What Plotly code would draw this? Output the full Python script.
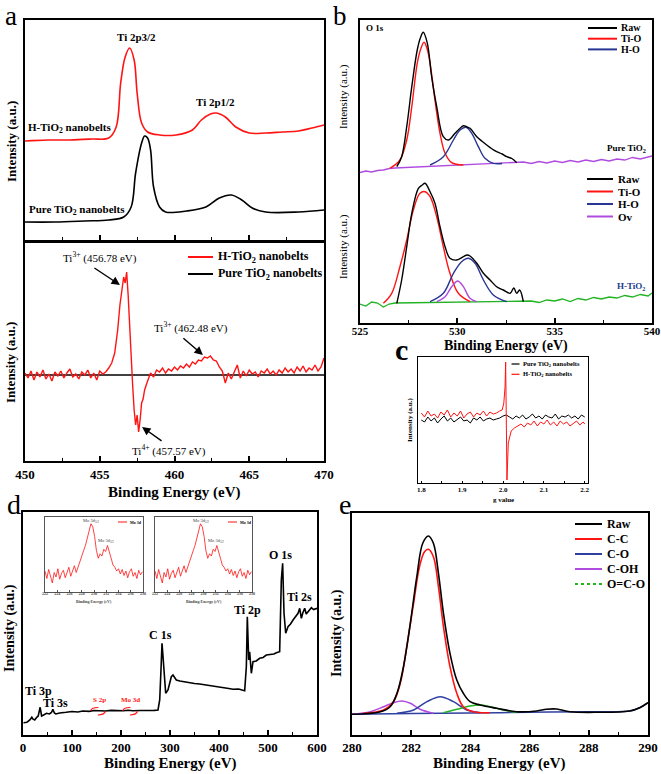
import plotly.graph_objects as go

W, H = 661, 774
SERIF = "Liberation Serif"
RED = "#ff1414"
NAVY = "#283593"
PURPLE = "#b04be0"
GREEN = "#22b322"
BLUE_E = "#3040a0"

# ---------------- Panel a (top): Ti 2p XPS ----------------
a_top_h_x = [450.0, 451.5, 453.0, 454.5, 455.6, 456.1, 456.4, 456.7, 457.0, 457.3, 457.5, 457.8, 458.2, 459.0, 460.1,
             461.2, 461.8, 462.4, 462.8, 463.4, 464.1, 465.0, 466.1, 467.2, 468.3, 469.2, 470.0]
a_top_h_y = [99, 100, 100, 101, 102, 113, 157, 183, 192, 180, 147, 117, 108, 105, 105,
             110, 120, 126, 127, 123, 113, 107, 107, 108, 109, 112, 115]
a_top_p_x = [450.0, 452.0, 454.0, 455.6, 456.6, 457.1, 457.4, 457.8, 458.0, 458.2, 458.4, 458.6, 459.0, 459.4,
             460.8, 462.1, 463.0, 463.8, 464.5, 465.2, 466.1, 468.3, 470.0]
a_top_p_y = [18, 18, 19, 20, 23, 33, 67, 97, 104, 102, 90, 53, 33, 28,
             29, 33, 42, 45, 40, 32, 28, 28, 30]

# ---------------- Panel a (bottom): difference spectrum ----------------
a_diff_x = [450.0, 450.2, 450.4, 450.6, 450.8, 451.0, 451.2, 451.4, 451.6, 451.8, 452.0, 452.2, 452.4, 452.6, 452.8,
            453.0, 453.2, 453.4, 453.6, 453.8, 454.0, 454.2, 454.4, 454.6, 454.8, 455.0, 455.2, 455.4, 455.6,
            455.8, 456.0, 456.2, 456.35, 456.5, 456.6, 456.7, 456.8, 456.9, 457.0, 457.1, 457.2, 457.3, 457.4,
            457.5, 457.6, 457.7, 457.8, 457.9, 458.0,
            458.2, 458.4, 458.6, 458.8, 459.0, 459.2, 459.4, 459.6, 459.8, 460.0,
            460.2, 460.4, 460.6, 460.8, 461.0, 461.2, 461.4, 461.6, 461.8, 462.0,
            462.2, 462.4, 462.6, 462.8, 463.0, 463.2, 463.4, 463.6, 463.8, 464.0,
            464.2, 464.4, 464.6, 464.8, 465.0, 465.2, 465.4, 465.6, 465.8, 466.0,
            466.2, 466.4, 466.6, 466.8, 467.0, 467.2, 467.4, 467.6, 467.8, 468.0,
            468.2, 468.4, 468.6, 468.8, 469.0, 469.2, 469.4, 469.6, 469.8, 470.0]
a_diff_y = [2, -3, 4, -5, 3, -2, 5, -4, 1, -6, 3, -1, 4, -3, 2, 6, -2, 1, -4, 3, 0, 5, -3, 2, -5, 4, 1, 3, 7,
            12, 22, 45,
            70, 88, 98, 92, 103, 80, 45, 15, -10, -35, -50, -40, -57, -45, -28, -24, -15,
            -6, 2, -2, 5, 3, 7, 2, 6, 4, 8,
            5, 9, 7, 11, 8, 13, 11, 15, 14, 18,
            17, 19, 15, 14, 8, 4, -8, 2, -4, 3,
            10, -3, 4, -1, 5, 1, 3, -2, 4, 2,
            6, 1, 4, 0, 5, 2, 7, 3, 6, 2,
            8, 4, 9, 3, 7, 5, 10, 4, 8, 17]
a_pure_x = [450.0, 470.0]
a_pure_y = [0, 0]
a_legend = ["H-TiO<sub>2</sub> nanobelts", "Pure TiO<sub>2</sub> nanobelts"]

# ---------------- Panel b: O 1s ----------------
b_top_raw_x = [526.89, 527.14, 527.40, 527.66, 527.94, 528.10, 528.25, 528.46, 528.68, 528.94, 529.28, 529.54, 529.88,
               530.10, 530.31, 530.50, 530.65, 531.00, 531.25, 531.51, 531.75, 532.02, 532.30, 532.54, 532.80, 533.05]
b_top_raw_y = [156.3, 166.3, 196.3, 236.3, 273.0, 285.0, 290.7, 279.7, 246.3, 216.3, 186.3, 183.0, 189.7,
               194.0, 197.3, 196.0, 194.7, 186.3, 182.0, 178.0, 174.5, 171.3, 169.0, 166.3, 164.5, 160.3]
b_top_tio_x = [526.54, 527.05, 527.40, 527.66, 527.94, 528.12, 528.29, 528.45, 528.60, 528.85, 529.11, 529.37, 529.71, 530.31]
b_top_tio_y = [154.7, 163.0, 183.0, 216.3, 259.7, 274.0, 280.7, 274.0, 259.7, 223.0, 189.7, 169.7, 160.3, 158.0]
b_top_ho_x = [528.60, 529.28, 529.80, 530.14, 530.45, 530.74, 531.08, 531.42, 531.85, 532.30]
b_top_ho_y = [158.0, 166.3, 183.0, 193.0, 195.7, 189.7, 176.3, 164.7, 159.7, 159.5]
b_top_bg_x = [525.0, 525.3, 525.6, 525.9, 526.2, 526.5, 526.8, 533.0, 533.4, 533.8, 534.2, 534.6, 535.0, 535.4, 535.8,
              536.2, 536.6, 537.0, 537.4, 537.8, 538.2, 538.6, 539.0, 539.4, 539.8, 540.0]
b_top_bg_y = [150.5, 152.0, 151.0, 152.5, 153.0, 154.5, 155.0, 160.0, 161.0, 159.5, 161.5, 160.0, 162.0, 160.5, 162.5,
              161.0, 163.0, 161.5, 163.5, 162.0, 164.0, 163.0, 165.5, 164.0, 166.5, 167.0]

b_bot_raw_x = [526.89, 527.14, 527.40, 527.66, 528.00, 528.20, 528.34, 528.60, 528.85, 529.11, 529.37, 529.62, 529.97,
               530.31, 530.50, 530.65, 531.00, 531.34, 531.68, 532.02, 532.36, 532.71, 532.90, 533.05, 533.20, 533.39]
b_bot_raw_y = [19.7, 43.0, 76.3, 109.7, 134.7, 138.0, 139.7, 131.3, 119.7, 96.3, 76.3, 64.7, 63.0,
               66.3, 68.0, 67.0, 59.7, 49.7, 43.0, 36.3, 33.0, 29.7, 35.0, 29.7, 33.0, 21.3]
b_bot_tio_x = [526.20, 526.63, 527.05, 527.40, 527.74, 528.08, 528.34, 528.60, 528.94, 529.28, 529.62, 530.05, 530.65]
b_bot_tio_y = [19.7, 29.7, 56.3, 83.0, 113.0, 129.7, 131.3, 126.3, 106.3, 76.3, 49.7, 29.7, 21.3]
b_bot_ho_x = [528.60, 529.28, 529.80, 530.22, 530.57, 530.91, 531.34, 531.85, 532.54]
b_bot_ho_y = [21.3, 29.7, 49.7, 61.3, 64.7, 59.7, 43.0, 28.0, 21.3]
b_bot_ov_x = [528.94, 529.37, 529.71, 530.02, 530.31, 530.65, 531.00]
b_bot_ov_y = [21.3, 26.3, 36.3, 42.0, 36.3, 24.7, 21.3]
b_bot_bg_x = [525.0, 525.3, 525.6, 525.9, 526.2, 526.5, 526.8, 533.4, 533.8, 534.2, 534.6, 535.0, 535.4, 535.8,
              536.2, 536.6, 537.0, 537.4, 537.8, 538.2, 538.6, 539.0, 539.4, 539.8, 540.0]
b_bot_bg_y = [19.0, 17.0, 21.0, 20.0, 16.0, 19.0, 20.0, 21.5, 22.0, 20.5, 23.0, 22.0, 24.0, 21.5,
              24.5, 23.0, 25.5, 24.0, 26.0, 25.0, 27.5, 26.0, 28.5, 27.0, 30.0]
b_top_names = ["Raw", "Ti-O", "H-O"]
b_bot_names = ["Raw", "Ti-O", "H-O", "Ov"]

# ---------------- Panel c: EPR ----------------
c_black_g = [1.800, 1.808, 1.816, 1.824, 1.832, 1.840, 1.848, 1.856, 1.864, 1.872, 1.880, 1.888, 1.896, 1.904,
             1.912, 1.920, 1.928, 1.936, 1.944, 1.952, 1.960, 1.968, 1.976, 1.984, 1.992, 2.000, 2.008, 2.016,
             2.024, 2.032, 2.040, 2.048, 2.056, 2.064, 2.072, 2.080, 2.088, 2.096, 2.104, 2.112, 2.120, 2.128,
             2.136, 2.144, 2.152, 2.160, 2.168, 2.176, 2.184, 2.192, 2.200]
c_black_v = [63, 61, 66, 62, 65, 60, 64, 67, 62, 65, 61, 64, 66, 62, 63, 60, 65, 63, 66, 62, 64, 65, 63, 64, 65,
             67, 68, 66, 64, 67, 65, 68, 64, 66, 69, 65, 67, 64, 68, 66, 65, 69, 64, 67, 66, 68, 65, 67, 64, 68, 66]
c_red_g = [1.800, 1.808, 1.816, 1.824, 1.832, 1.840, 1.848, 1.856, 1.864, 1.872, 1.880, 1.888, 1.896, 1.904,
           1.912, 1.920, 1.928, 1.936, 1.944, 1.952, 1.960, 1.968, 1.976, 1.984, 1.992,
           1.998, 2.002, 2.005, 2.0065, 2.008, 2.0097, 2.013, 2.020,
           2.028, 2.036, 2.044, 2.052, 2.060, 2.068, 2.076, 2.084, 2.092, 2.100, 2.108, 2.116, 2.124, 2.132,
           2.140, 2.148, 2.156, 2.164, 2.172, 2.180, 2.188, 2.196, 2.200]
c_red_v = [70, 66, 72, 67, 69, 65, 71, 68, 73, 66, 70, 67, 72, 65, 69, 71, 66, 70, 68, 72, 67, 71, 69, 70, 72,
           73, 80, 96, 121, 73, 3, 40, 52,
           55, 57, 59, 56, 60, 58, 62, 57, 61, 59, 63, 58, 61, 57, 62, 59, 61, 57, 60, 62, 58, 61, 59]
c_names = ["Pure TiO<sub>2</sub> nanobelts", "H-TiO<sub>2</sub> nanobelts"]

# ---------------- Panel d: survey ----------------
d_x = [1, 8, 14, 18, 20, 24, 28, 31, 35, 38, 42, 48, 54, 58, 61, 64, 67, 75, 88, 100, 112, 122, 135, 145, 156, 168,
       180, 190, 205, 215, 224, 240, 258, 268, 275.5, 279, 282, 283.7, 285.5, 287.1, 289, 291.2, 295.9, 299, 302.7,
       306.1, 312.9, 320, 326.5, 340, 350, 360.5, 375, 385, 394.6, 410, 420, 428.6, 440, 447, 452.4, 455.8, 457.8,
       459.3, 460.6, 462.6, 464, 466, 469.4, 476, 483, 490, 496.6, 505, 512, 517, 523.8, 527.2, 529.9, 532.7, 536.1,
       540.8, 546, 551.1, 556, 561.3, 564.7, 568.1, 571, 574.9, 578, 581.7, 585, 588.5, 593, 600]
d_y = [12.3, 12.8, 15, 17.7, 16, 15, 17.7, 19, 27.7, 19, 20, 21.7, 21, 22.5, 25.7, 22, 21, 22, 22.7, 23.5, 23, 24,
       23.6, 24.5, 24.3, 24, 24.6, 24.2, 24.3, 24.8, 24.3, 24.5, 24.3, 24.6, 25, 35, 70, 91.7, 80, 68.3, 50, 41.7, 45,
       52, 58.3, 60, 55, 54, 53.3, 52.5, 51.5, 51, 50, 49.5, 48.3, 47.5, 46.5, 45.7, 46, 45, 44.3, 68.3, 118.3, 95,
       75, 83.3, 70, 61.7, 73.3, 74, 76.7, 77.5, 80, 80.5, 81, 82.3, 83.3, 155, 171.7, 121.7, 101.7, 108.3, 111, 115,
       118, 121.7, 126.7, 116.7, 122, 126.7, 121, 123.3, 125, 127.3, 125.5, 126.7]
d_mo_x = [222.0, 222.3, 222.6, 222.9, 223.2, 223.5, 223.8, 224.1, 224.4, 224.7, 225.0, 225.3, 225.6, 225.9, 226.2,
          226.5, 226.8, 227.1, 227.4, 227.7, 228.0, 228.3, 228.6, 228.9, 229.2, 229.5, 229.8, 230.1, 230.4, 230.7,
          231.0, 231.3, 231.6, 231.9, 232.2, 232.5, 232.8, 233.1, 233.4, 233.7, 234.0, 234.3, 234.6, 234.9, 235.2,
          235.5, 235.8, 236.1, 236.4, 236.7, 237.0, 237.3, 237.6, 237.9]
d_mo_y = [28, 18, 30, 22, 12, 26, 20, 31, 17, 25, 29, 19, 27, 33, 21, 29, 35, 26, 34, 40,
          48, 55, 62, 72, 83, 91, 87, 74, 55, 45, 51, 48, 57, 54, 62, 55, 45, 36, 33, 28,
          31, 24, 30, 22, 28, 19, 27, 31, 21, 26, 18, 29, 23, 27]
d_mo_ticks = [222, 224, 226, 228, 230, 232, 234, 236, 238]

# ---------------- Panel e: C 1s ----------------
e_raw_x = [280.0, 280.96, 281.29, 281.52, 281.74, 281.97, 282.19, 282.39, 282.58, 282.75, 282.92, 283.09, 283.31,
           283.54, 283.76, 283.99, 284.33, 284.89, 285.56, 286.24, 286.57, 286.91, 287.36, 288.26, 289.38, 289.72, 290.0]
e_raw_y = [20.7, 23.3, 28.3, 41.7, 68.3, 111.7, 158.3, 191.7, 199.0, 191.7, 161.7, 121.7, 81.7,
           55.0, 41.7, 33.3, 30.0, 26.7, 23.3, 24.0, 25.7, 26.0, 23.3, 22.7, 24.0, 27.3, 32.3]
e_cc_x = [280.39, 281.07, 281.40, 281.63, 281.85, 282.08, 282.28, 282.45, 282.58, 282.75, 282.92, 283.09, 283.31,
          283.54, 283.76, 284.10, 284.66]
e_cc_y = [21.7, 25.0, 33.3, 51.7, 88.3, 131.7, 168.3, 183.3, 185.7, 178.3, 148.3, 108.3, 68.3, 41.7, 28.3, 23.3, 22.3]
e_co_x = [281.52, 282.08, 282.53, 282.98, 283.43, 283.88, 284.33]
e_co_y = [21.7, 25.0, 33.3, 38.3, 33.3, 25.0, 22.3]
e_coh_x = [280.0, 280.62, 281.07, 281.40, 281.69, 281.97, 282.30, 282.75]
e_coh_y = [20.7, 23.3, 28.3, 32.3, 34.0, 31.7, 25.7, 21.7]
e_oco_x = [283.09, 283.54, 283.99, 284.33, 284.66, 285.11, 285.56]
e_oco_y = [22.3, 25.7, 29.0, 30.0, 28.3, 25.0, 22.7]
e_bg_x = [280.0, 282.0, 284.0, 286.0, 288.0, 289.38, 289.72, 290.0]
e_bg_y = [20.7, 21.4, 22.0, 22.7, 23.3, 24.0, 27.3, 32.3]
e_names = ["Raw", "C-C", "C-O", "C-OH", "O=C-O"]

# ================= figure =================
fig = go.Figure()

# panel boxes in pixels: (x0, x1, y0_top, y1_bottom)
boxes = {
    1: (25, 324, 20, 240),    # a top
    2: (25, 324, 243, 461),   # a bottom
    3: (360, 652, 20, 323),   # b
    4: (418, 588, 357, 483),  # c
    5: (23, 317, 512, 735),   # d
    6: (45, 143, 517, 592),   # d inset 1
    7: (155, 252, 517, 592),  # d inset 2
    8: (352, 648, 513, 735),  # e
}


def ax(i):
    return ("x" if i == 1 else f"x{i}"), ("y" if i == 1 else f"y{i}")


def line(i, x, y, color, width=1.5, name=None, shape="linear", dash=None):
    xa, ya = ax(i)
    fig.add_trace(go.Scatter(x=x, y=y, mode="lines", name=name, showlegend=False, xaxis=xa, yaxis=ya,
                             line=dict(color=color, width=width, shape=shape, dash=dash)))


# a top
line(1, a_top_h_x, a_top_h_y, RED, 1.6, "H-TiO2", "spline")
line(1, a_top_p_x, a_top_p_y, "black", 1.6, "Pure TiO2", "spline")
# a bottom
line(2, a_pure_x, a_pure_y, "black", 1.6, a_legend[1])
line(2, a_diff_x, a_diff_y, RED, 1.4, a_legend[0])
# b
line(3, b_top_bg_x, b_top_bg_y, PURPLE, 1.3)
line(3, b_top_tio_x, b_top_tio_y, RED, 1.4, "Ti-O", "spline")
line(3, b_top_ho_x, b_top_ho_y, NAVY, 1.4, "H-O", "spline")
line(3, b_top_raw_x, b_top_raw_y, "black", 1.4, "Raw", "spline")
line(3, b_bot_bg_x, b_bot_bg_y, GREEN, 1.3)
line(3, b_bot_tio_x, b_bot_tio_y, RED, 1.4, "Ti-O", "spline")
line(3, b_bot_ho_x, b_bot_ho_y, NAVY, 1.4, "H-O", "spline")
line(3, b_bot_ov_x, b_bot_ov_y, PURPLE, 1.4, "Ov", "spline")
line(3, b_bot_raw_x, b_bot_raw_y, "black", 1.4, "Raw", "spline")
# c
line(4, c_black_g, c_black_v, "black", 1.0, c_names[0])
line(4, c_red_g, c_red_v, RED, 1.0, c_names[1])
# d
line(5, d_x, d_y, "black", 1.6, "survey")
line(6, d_mo_x, d_mo_y, RED, 0.8, "Mo 3d")
line(7, d_mo_x, d_mo_y, RED, 0.8, "Mo 3d")
# e
line(8, e_bg_x, e_bg_y, BLUE_E, 1.5, shape="spline")
line(8, e_coh_x, e_coh_y, PURPLE, 1.5, "C-OH", "spline")
line(8, e_co_x, e_co_y, BLUE_E, 1.5, "C-O", "spline")
line(8, e_oco_x, e_oco_y, GREEN, 1.5, "O=C-O", "spline")
line(8, e_cc_x, e_cc_y, RED, 1.6, "C-C", "spline")
line(8, e_raw_x, e_raw_y, "black", 1.6, "Raw", "spline")

ranges = {
    1: ([450, 470], [0, 220]),
    2: ([450, 470], [-86, 132]),
    3: ([525, 540], [0, 303]),
    4: ([1.792, 2.208], [0, 126]),
    5: ([0, 600], [0, 223]),
    6: ([222, 238], [0, 100]),
    7: ([222, 238], [0, 100]),
    8: ([280, 290], [0, 222]),
}
xticks = {
    1: dict(dtick=5, minor=2.5, labels=False, size=13, stand=0),
    2: dict(dtick=5, minor=2.5, labels=True, size=13, stand=0),
    3: dict(dtick=5, minor=2.5, labels=True, size=11, stand=-3),
    4: dict(dtick=0.1, minor=0.05, labels=True, size=7, stand=-1),
    5: dict(dtick=100, minor=50, labels=True, size=13, stand=-1),
    6: dict(dtick=2, minor=None, labels=True, size=4, stand=-3),
    7: dict(dtick=2, minor=None, labels=True, size=4, stand=-3),
    8: dict(dtick=2, minor=1, labels=True, size=13, stand=-1),
}

layout = {}
for i, (x0, x1, y0, y1) in boxes.items():
    xr, yr = ranges[i]
    t = xticks[i]
    xa_name = "xaxis" if i == 1 else f"xaxis{i}"
    ya_name = "yaxis" if i == 1 else f"yaxis{i}"
    xa, ya = ax(i)
    small = i in (4, 6, 7)
    lw = 0.8 if i in (6, 7) else (1.2 if i == 4 else 1.8)
    lc = "#555555" if i in (6, 7) else "black"
    xd = dict(domain=[x0 / W, x1 / W], anchor=ya, range=xr, showline=True, mirror=True, linecolor=lc,
              linewidth=lw, showgrid=False, zeroline=False, ticks="inside", dtick=t["dtick"],
              tick0=(1.8 if i == 4 else xr[0]), automargin=False,
              ticklen=2 if small else 5, tickwidth=1 if small else 1.5, tickcolor=lc,
              showticklabels=t["labels"], ticklabelstandoff=t["stand"],
              tickfont=dict(family=SERIF, size=t["size"], color=("#444444" if i in (6, 7) else "black"),
                            weight="bold"))
    if t["minor"]:
        xd["minor"] = dict(ticks="inside", dtick=t["minor"], ticklen=1.5 if small else 3, tickcolor=lc, tickwidth=1)
    layout[xa_name] = xd
    layout[ya_name] = dict(domain=[1 - y1 / H, 1 - y0 / H], anchor=xa, range=yr, showline=True, mirror=True,
                           linecolor=lc, linewidth=lw, showgrid=False, zeroline=False, ticks="",
                           showticklabels=False, automargin=False)
layout["xaxis6"]["tickvals"] = d_mo_ticks
layout["xaxis7"]["tickvals"] = d_mo_ticks
layout["xaxis4"]["tickformat"] = ".1f"

fig.update_layout(**layout)
fig.update_layout(width=W, height=H, autosize=False, margin=dict(l=0, r=0, t=0, b=0, autoexpand=False),
                  paper_bgcolor="white", plot_bgcolor="rgba(0,0,0,0)", showlegend=False)


def P(px, py):
    return px / W, 1 - py / H


def text(px, py, s, size=12, bold=True, color="black", anchor="center", angle=0, family=SERIF, yanchor="middle"):
    x, y = P(px, py)
    fig.add_annotation(x=x, y=y, xref="paper", yref="paper", text=(f"<b>{s}</b>" if bold else s),
                       showarrow=False, xanchor=anchor, yanchor=yanchor, textangle=angle,
                       font=dict(family=family, size=size, color=color), borderpad=0)


def legend(px0, py0, names, colors, row, length, size, gap=4, dashes=None, width=2):
    for k, (nm, col) in enumerate(zip(names, colors)):
        yy = py0 + k * row
        x0, y = P(px0, yy)
        x1, _ = P(px0 + length, yy)
        fig.add_shape(type="line", xref="paper", yref="paper", x0=x0, x1=x1, y0=y, y1=y,
                      line=dict(color=col, width=width, dash=(dashes[k] if dashes else None)))
        text(px0 + length + gap, yy, nm, size=size, anchor="left")


def arrow(i, hx, hy, ax_px, ay_px):
    xa, ya = ax(i)
    fig.add_annotation(x=hx, y=hy, xref=xa, yref=ya, ax=ax_px, ay=ay_px, axref="pixel", ayref="pixel",
                       text="", showarrow=True, arrowhead=2, arrowsize=1.2, arrowwidth=1.4, arrowcolor="black")


# panel letters
text(11, 0, "a", size=27, bold=False, yanchor="top")
text(340, 0, "b", size=27, bold=False, yanchor="top")
text(402, 349, "c", size=30, bold=True)
text(14, 504, "d", size=28, bold=False)
text(345, 504, "e", size=28, bold=False)

# ---- a ----
text(136, 37, "Ti 2p3/2", size=11)
text(215, 102, "Ti 2p1/2", size=11)
text(27, 128, "H-TiO<sub>2</sub> nanobelts", size=11, anchor="left")
text(28, 210, "Pure TiO<sub>2</sub> nanobelts", size=11, anchor="left")
text(11, 142, "Intensity (a.u.)", size=13, angle=-90)
text(11, 363, "Intensity (a.u.)", size=13, angle=-90)
text(175, 493, "Binding Energy (eV)", size=15)
text(100, 257, "Ti<sup>3+</sup> (456.78 eV)", size=11, bold=False)
text(191, 327, "Ti<sup>3+</sup> (462.48 eV)", size=11, bold=False)
text(169, 450, "Ti<sup>4+</sup> (457.57 eV)", size=11, bold=False)
arrow(2, 456.35, 90, -27, -18)
arrow(2, 461.9, 20, -21, -18)
arrow(2, 457.83, -52, 21, 15)
legend(188, 257, a_legend, [RED, "black"], 17, 25, 12, gap=4)

# ---- b ----
text(365, 28, "O 1s", size=9, anchor="left")
text(647, 148, "Pure TiO<sub>2</sub>", size=9, anchor="right")
text(647, 286, "H-TiO<sub>2</sub>", size=9, anchor="right", color="#1a3c8c")
text(343, 97, "Intensity (a.u.)", size=11, bold=False, angle=-90)
text(343, 247, "Intensity (a.u.)", size=11, bold=False, angle=-90)
text(506, 346, "Binding Energy (eV)", size=14)
legend(588, 28, b_top_names, ["black", RED, NAVY], 10.7, 29, 10, gap=3)
legend(587, 179, b_bot_names, ["black", RED, NAVY, PURPLE], 12.5, 26, 11, gap=4)

# ---- c ----
text(410, 420, "Intensity (a.u.)", size=7, angle=-90)
text(503, 500, "g value", size=7)
legend(511.5, 364, c_names, ["black", RED], 10.3, 8, 6.5, gap=2, width=1.2)

# ---- d ----
text(10, 628, "Intensity (a.u.)", size=14, angle=-90)
text(170, 763, "Binding Energy (eV)", size=15)
xa5, ya5 = ax(5)
for lbl, ex, ey, col, sz in [("Ti 3p", 31.6, 44, "black", 12), ("Ti 3s", 66.3, 32, "black", 12),
                             ("S 2p", 156, 35, RED, 7), ("Mo 3d", 220, 35, RED, 7),
                             ("C 1s", 279.6, 100, "black", 12), ("Ti 2p", 458, 125, "black", 12),
                             ("O 1s", 526.5, 180, "black", 12), ("Ti 2s", 564, 138, "black", 12)]:
    fig.add_annotation(x=ex, y=ey, xref=xa5, yref=ya5, text=f"<b>{lbl}</b>", showarrow=False,
                       font=dict(family=SERIF, size=sz, color=col))
for cx in (153, 218.4):
    fig.add_shape(type="circle", xref=xa5, yref=ya5, x0=cx - 15, x1=cx + 15, y0=20, y1=27.5,
                  line=dict(color=RED, width=1.2, dash="dash"))
for off in (0, 110):
    text(91 + off, 521, "Mo 3d<sub>5/2</sub>", size=4.5, bold=False, color="#444444")
    text(106 + off, 541, "Mo 3d<sub>3/2</sub>", size=4.5, bold=False, color="#444444")
    legend(118 + off, 522, ["Mo 3d"], [RED], 0, 9, 4, gap=2, width=1)
    text(94 + off, 601, "Binding Energy (eV)", size=4, bold=True, color="#444444")

# ---- e ----
text(337, 633, "Intensity (a.u.)", size=14, angle=-90)
text(500, 763, "Binding Energy (eV)", size=15)
legend(575, 524, e_names, ["black", RED, BLUE_E, PURPLE, GREEN], 15, 27, 12, gap=4,
       dashes=[None, None, None, None, "dot"])

fig.write_html("out.html", config={"displayModeBar": False},
               post_script="document.body.style.margin='0';document.body.style.padding='0';")
